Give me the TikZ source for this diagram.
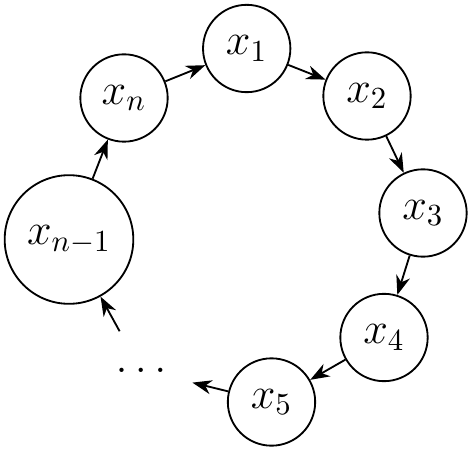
\documentclass[tikz,border=0pt]{standalone}
\usetikzlibrary{arrows.meta}
\begin{document}
\begin{tikzpicture}[x=0.3257pt,y=-0.3257pt,font=\Large,
  vert/.style={circle,draw,line width=0.6pt,minimum size=1cm,inner sep=0pt},
  conn/.style={-{Stealth[length=6.3pt,width=4.6pt,inset=2pt]},line width=0.6pt}]
\useasboundingbox (0,0) rectangle (473,451);
\node[vert] (x1) at (246.7,48.5) {$x_1$};
\node[vert] (x2) at (367,96) {$x_2$};
\node[vert] (x3) at (423,213) {$x_3$};
\node[vert] (x4) at (384,337.5) {$x_4$};
\node[vert] (x5) at (271.5,402) {$x_5$};
\node[circle,minimum size=1cm,inner sep=0pt] (dots) at (141,370) {$\ldots$};
\node[vert,minimum size=41.9pt] (xm) at (69,239.5) {$x_{n-1}$};
\node[vert] (xn) at (124,98) {$x_n$};
\draw[conn] (xn) -- (x1);
\draw[conn] (x1) -- (x2);
\draw[conn] (x2) -- (x3);
\draw[conn] (x3) -- (x4);
\draw[conn] (x4) -- (x5);
\draw[conn,shorten >=2.8pt] (x5) -- (dots);
\draw[conn] (dots) -- (xm);
\draw[conn] (xm) -- (xn);
\end{tikzpicture}
\end{document}
